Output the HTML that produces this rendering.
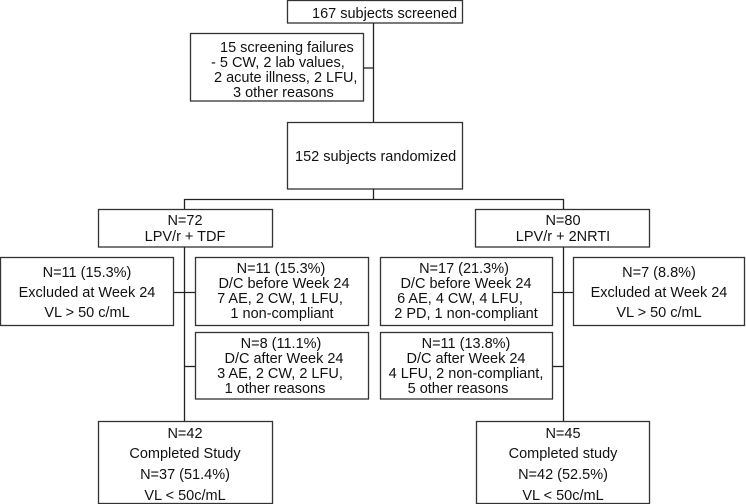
<!DOCTYPE html>
<html><head><meta charset="utf-8"><style>
html,body{margin:0;padding:0;background:#fff;width:746px;height:504px;overflow:hidden}
svg text{font-family:"Liberation Sans",Arial,sans-serif;font-size:14.5px;fill:#111}
</style></head><body>
<svg width="746" height="504" viewBox="0 0 746 504" xmlns="http://www.w3.org/2000/svg">
<g fill="#fff" stroke="#333" stroke-width="1.3">
<rect x="287.5" y="0.5" width="175" height="22.5"/>
<rect x="190.5" y="33.5" width="173" height="67.5"/>
<rect x="287.5" y="122.5" width="175" height="66.5"/>
<rect x="98.5" y="209.5" width="174" height="37.5"/>
<rect x="475.5" y="209.5" width="174" height="37.5"/>
<rect x="0.5" y="257.5" width="173" height="68"/>
<rect x="195.5" y="257.5" width="173" height="68"/>
<rect x="380.5" y="257.5" width="172" height="68"/>
<rect x="573.5" y="257.5" width="171" height="68"/>
<rect x="195.5" y="332.5" width="173" height="66.5"/>
<rect x="380.5" y="332.5" width="172" height="66.5"/>
<rect x="98.5" y="421.5" width="174" height="82"/>
<rect x="476.5" y="421.5" width="173" height="82"/>
</g>
<g stroke="#222" stroke-width="1.3" fill="none">
<line x1="373.5" y1="23" x2="373.5" y2="122"/>
<line x1="364" y1="68" x2="373.5" y2="68"/>
<line x1="373.5" y1="189" x2="373.5" y2="199"/>
<line x1="184.5" y1="199.5" x2="563.5" y2="199.5"/>
<line x1="184.5" y1="199" x2="184.5" y2="209"/>
<line x1="563.5" y1="199" x2="563.5" y2="209"/>
<line x1="184.5" y1="247" x2="184.5" y2="421"/>
<line x1="563.5" y1="247" x2="563.5" y2="421"/>
<line x1="174" y1="292.5" x2="195" y2="292.5"/>
<line x1="184.5" y1="366.5" x2="195" y2="366.5"/>
<line x1="553" y1="292.5" x2="573" y2="292.5"/>
<line x1="553" y1="366.5" x2="563.5" y2="366.5"/>
</g>
<text x="312" y="18">167 subjects screened</text>
<text x="220" y="52">15 screening failures</text>
<text x="211" y="67">- 5 CW, 2 lab values,</text>
<text x="214" y="82">2 acute illness, 2 LFU,</text>
<text x="233" y="97">3 other reasons</text>
<text x="295" y="161">152 subjects randomized</text>
<g text-anchor="middle">
<text x="185" y="225">N=72</text>
<text x="185" y="241">LPV/r + TDF</text>
<text x="563" y="225">N=80</text>
<text x="563" y="241">LPV/r + 2NRTI</text>
<text x="87" y="277">N=11 (15.3%)</text>
<text x="87" y="297">Excluded at Week 24</text>
<text x="87" y="317">VL &gt; 50 c/mL</text>
<text x="659" y="277">N=7 (8.8%)</text>
<text x="659" y="297">Excluded at Week 24</text>
<text x="659" y="317">VL &gt; 50 c/mL</text>
<text x="281" y="273">N=11 (15.3%)</text>
<text x="284" y="288">D/C before Week 24</text>
<text x="280" y="303">7 AE, 2 CW, 1 LFU,</text>
<text x="282" y="318">1 non-compliant</text>
<text x="464" y="273">N=17 (21.3%)</text>
<text x="466" y="288">D/C before Week 24</text>
<text x="460" y="303">6 AE, 4 CW, 4 LFU,</text>
<text x="466" y="318">2 PD, 1 non-compliant</text>
<text x="281" y="348">N=8 (11.1%)</text>
<text x="284" y="363">D/C after Week 24</text>
<text x="280" y="378">3 AE, 2 CW, 2 LFU,</text>
<text x="275" y="393">1 other reasons</text>
<text x="466" y="348">N=11 (13.8%)</text>
<text x="466" y="363">D/C after Week 24</text>
<text x="466" y="378">4 LFU, 2 non-compliant,</text>
<text x="458" y="393">5 other reasons</text>
<text x="185" y="438">N=42</text>
<text x="185" y="458">Completed Study</text>
<text x="185" y="479">N=37 (51.4%)</text>
<text x="185" y="500">VL &lt; 50c/mL</text>
<text x="563" y="438">N=45</text>
<text x="563" y="458">Completed study</text>
<text x="563" y="479">N=42 (52.5%)</text>
<text x="563" y="500">VL &lt; 50c/mL</text>
</g>
</svg>
</body></html>
